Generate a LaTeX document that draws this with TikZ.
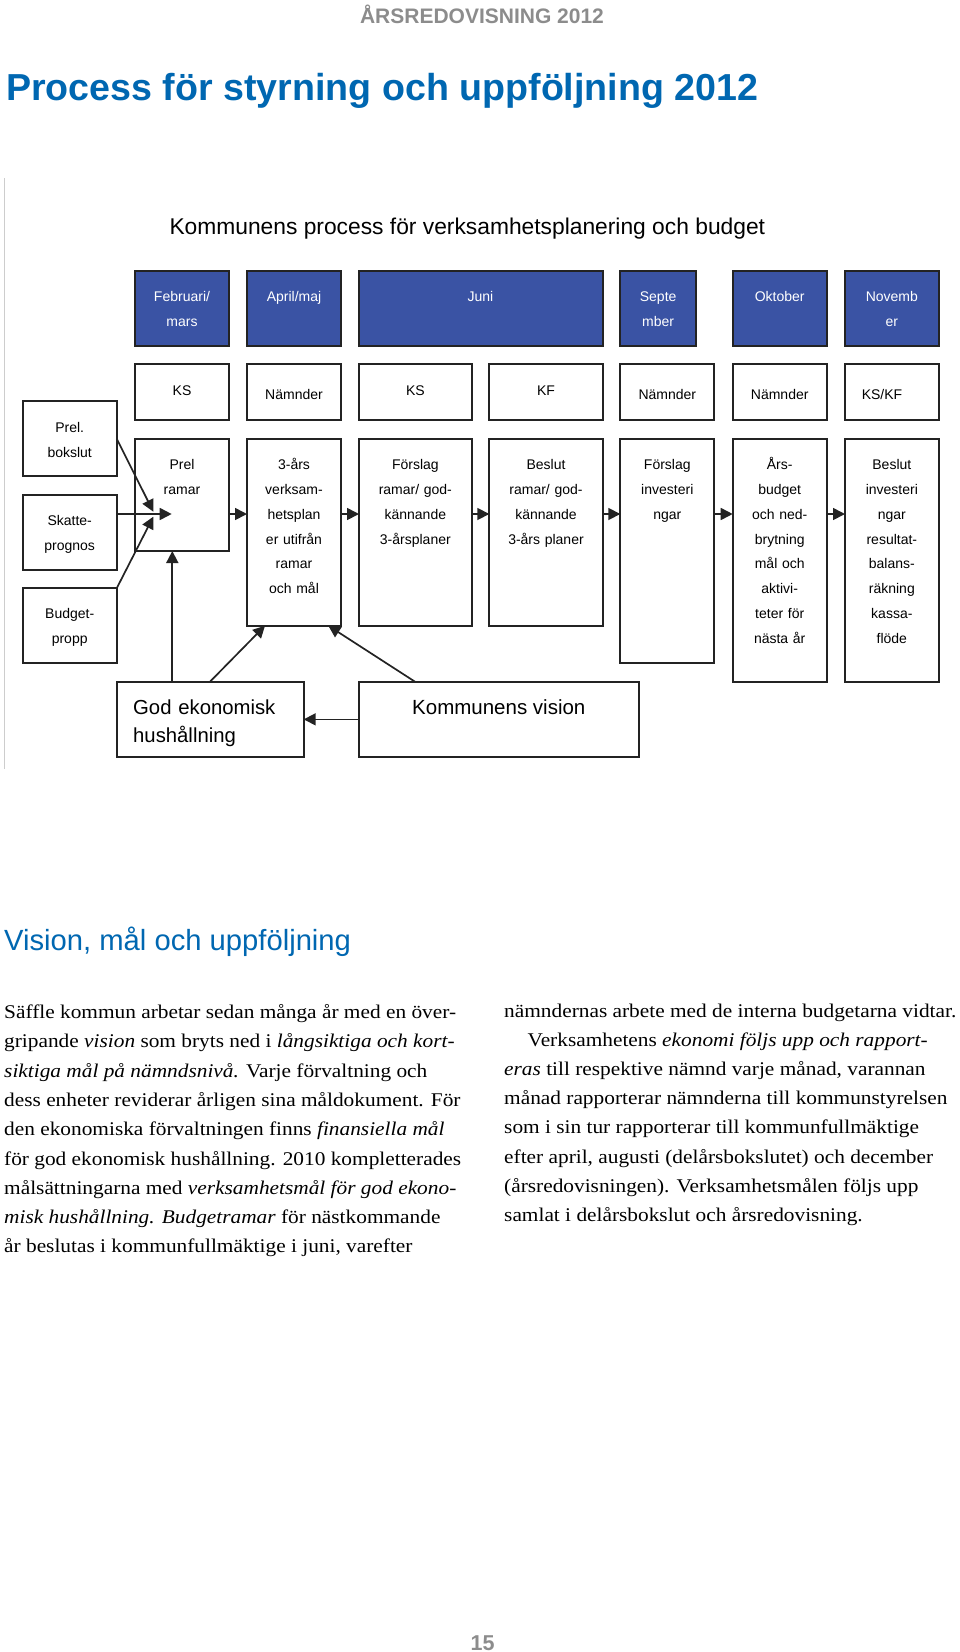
\documentclass[tikz,border=0pt]{standalone}
\usepackage{fontspec}
\setmainfont{Liberation Serif}[FakeStretch=1.1]
\newfontfamily\arial{Liberation Sans}
\usetikzlibrary{arrows.meta,calc}
\definecolor{monthblue}{RGB}{58,83,164}
\definecolor{titleblue}{RGB}{0,103,177}
\definecolor{hdrgray}{RGB}{140,140,140}
\definecolor{boxline}{RGB}{35,35,35}
\definecolor{framegray}{RGB}{205,205,205}
\begin{document}
\begin{tikzpicture}[x=1pt,y=-1pt,
  box/.style={draw=boxline, line width=1.7pt, inner sep=0pt, outer sep=0pt},
  monthbox/.style={box, fill=monthblue},
  btxt/.style={font={\arial\fontsize{14}{24.9}\selectfont}, align=center, inner sep=0pt, anchor=base},
  mtxt/.style={btxt, text=white},
  arr/.style={draw=boxline, line width=1.7pt, -{Triangle[length=12pt,width=12pt]}},
  body/.style={font={\fontsize{19.4}{29.3}\selectfont}, anchor=base west, inner sep=0pt}
]
\useasboundingbox (0,0) rectangle (960,1652);

% header and title
\node[anchor=base, inner sep=0pt, font={\arial\bfseries\fontsize{21}{24}\selectfont}, text=hdrgray] (hdr) at (482,23.3) {ÅRSREDOVISNING 2012};
\node[anchor=base west, inner sep=0pt, font={\arial\bfseries\fontsize{37.6}{40}\selectfont}, text=titleblue] (title) at (6,100.7) {Process för styrning och uppföljning 2012};

% frame line
\draw[framegray, line width=1pt] (4.5,178) -- (4.5,769);

% diagram title
\node[anchor=base west, inner sep=0pt, font={\arial\fontsize{22.8}{26}\selectfont}] (dtitle) at (169.3,234) {Kommunens process för verksamhetsplanering och budget};

% month row
\node[monthbox, minimum width=94pt, minimum height=75pt] (m1) at (182,308.2) {};
\node[monthbox, minimum width=94pt, minimum height=75pt] (m2) at (294,308.2) {};
\node[monthbox, minimum width=243.7pt, minimum height=75pt] (m3) at (480.85,308.2) {};
\node[monthbox, minimum width=75.7pt, minimum height=75pt] (m4) at (658.15,308.2) {};
\node[monthbox, minimum width=94pt, minimum height=75pt] (m5) at (779.7,308.2) {};
\node[monthbox, minimum width=93.7pt, minimum height=75pt] (m6) at (891.85,308.2) {};
\node[mtxt, text width=94pt] (tm1) at (182,301.5) {Februari/\\mars};
\node[mtxt, text width=94pt] (tm2) at (294,301.5) {April/maj};
\node[mtxt, text width=94pt] (tm3) at (480.5,301.5) {Juni};
\node[mtxt, text width=75pt] (tm4) at (658.15,301.5) {Septe\\mber};
\node[mtxt, text width=94pt] (tm5) at (779.7,301.5) {Oktober};
\node[mtxt, text width=94pt] (tm6) at (891.85,301.5) {Novemb\\er};

% who row
\node[box, minimum width=94pt, minimum height=56.3pt] (w1) at (182,392.15) {};
\node[box, minimum width=94pt, minimum height=56.3pt] (w2) at (294,392.15) {};
\node[box, minimum width=112.7pt, minimum height=56.3pt] (w3) at (415.35,392.15) {};
\node[box, minimum width=113.4pt, minimum height=56.3pt] (w4) at (546,392.15) {};
\node[box, minimum width=94pt, minimum height=56.3pt] (w5) at (667.3,392.15) {};
\node[box, minimum width=94pt, minimum height=56.3pt] (w6) at (779.7,392.15) {};
\node[box, minimum width=93.7pt, minimum height=56.3pt] (w7) at (891.85,392.15) {};
\node[btxt, text width=94pt] (tw1) at (182,395) {KS};
\node[btxt, text width=94pt] (tw2) at (294,399) {Nämnder};
\node[btxt, text width=94pt] (tw3) at (415.35,395) {KS};
\node[btxt, text width=94pt] (tw4) at (546,395) {KF};
\node[btxt, text width=94pt] (tw5) at (667.3,399) {Nämnder};
\node[btxt, text width=94pt] (tw6) at (779.7,399) {Nämnder};
\node[btxt, text width=94pt] (tw7) at (882,399) {KS/KF};

% left column
\node[box, minimum width=94pt, minimum height=75.3pt] (bok) at (69.7,438.65) {};
\node[box, minimum width=94pt, minimum height=75pt] (skatte) at (69.7,532.2) {};
\node[box, minimum width=94pt, minimum height=74.7pt] (budget) at (69.7,625.65) {};
\node[btxt, text width=94pt] (tbok) at (69.7,432.3) {Prel.\\bokslut};
\node[btxt, text width=94pt] (tskatte) at (69.7,525.7) {Skatte-\\prognos};
\node[btxt, text width=94pt] (tbudget) at (69.7,618.3) {Budget-\\propp};

% process row
\node[box, minimum width=94pt, minimum height=112.3pt] (prel) at (182,494.85) {};
\node[box, minimum width=94pt, minimum height=187pt] (verk) at (294,532.2) {};
\node[box, minimum width=112.7pt, minimum height=187pt] (forsl) at (415.35,532.2) {};
\node[box, minimum width=113.4pt, minimum height=187pt] (besl) at (546,532.2) {};
\node[box, minimum width=94pt, minimum height=224.3pt] (finv) at (667.3,550.85) {};
\node[box, minimum width=94pt, minimum height=243pt] (ars) at (779.7,560.2) {};
\node[box, minimum width=93.7pt, minimum height=243pt] (binv) at (891.85,560.2) {};
\node[btxt, text width=94pt] (tprel) at (182,469.3) {Prel\\ramar};
\node[btxt, text width=94pt] (tverk) at (294,469.3) {3-års\\verksam-\\hetsplan\\er utifrån\\ramar\\och mål};
\node[btxt, text width=112pt] (tforsl) at (415.35,469.3) {Förslag\\ramar/ god-\\kännande\\3-årsplaner};
\node[btxt, text width=112pt] (tbesl) at (546,469.3) {Beslut\\ramar/ god-\\kännande\\3-års planer};
\node[btxt, text width=94pt] (tfinv) at (667.3,469.3) {Förslag\\investeri\\ngar};
\node[btxt, text width=94pt] (tars) at (779.7,469.3) {Års-\\budget\\och ned-\\brytning\\mål och\\aktivi-\\teter för\\nästa år};
\node[btxt, text width=94pt] (tbinv) at (891.85,469.3) {Beslut\\investeri\\ngar\\resultat-\\balans-\\räkning\\kassa-\\flöde};

% bottom row
\node[box, minimum width=187pt, minimum height=75.3pt] (god) at (210.2,719.35) {};
\node[box, minimum width=280.3pt, minimum height=75.3pt] (vis) at (499.15,719.35) {};
\node[anchor=base west, inner sep=0pt, align=left, text width=170pt, font={\arial\fontsize{20.3}{28.5}\selectfont}] (tgod) at (133,714) {God ekonomisk\\hushållning};
\node[anchor=base west, inner sep=0pt, font={\arial\fontsize{20.5}{28.5}\selectfont}] (tvis) at (412,714) {Kommunens vision};

% connectors
\coordinate (row) at (0,514);
\coordinate (tipA) at (153.3,511.7);
\coordinate (tipB) at (171.7,514);
\coordinate (tipC) at (153.3,516.7);
\draw[arr] (bok.east) -- (tipA);
\draw[arr] (skatte.east |- row) -- (tipB);
\draw[arr] (budget.north east) -- (tipC);
\draw[arr] (prel.east |- row) -- (verk.west |- row);
\draw[arr] (verk.east |- row) -- (forsl.west |- row);
\draw[arr] (forsl.east |- row) -- (besl.west |- row);
\draw[arr] (besl.east |- row) -- (finv.west |- row);
\draw[arr] (finv.east |- row) -- (ars.west |- row);
\draw[arr] (ars.east |- row) -- (binv.west |- row);
\draw[arr] ([xshift=55.6pt]god.north west) -- ([xshift=37.3pt]prel.south west);
\draw[arr] ([xshift=93.3pt]god.north west) -- ([xshift=18pt]verk.south west);
\draw[arr] ([xshift=56pt]vis.north west) -- ([xshift=81.3pt]verk.south west);
\draw[arr] (vis.west) -- (god.east);

% section heading
\node[anchor=base west, inner sep=0pt, font={\arial\fontsize{29.2}{32}\selectfont}, text=titleblue] (sec) at (4,950) {Vision, mål och uppföljning};

% body left
\node[body] (l1) at (4,1018.5) {Säffle kommun arbetar sedan många år med en över-};
\node[body] (l2) at (4,1047.8) {gripande \textit{vision} som bryts ned i \textit{långsiktiga och kort-}};
\node[body] (l3) at (4,1077.1) {\textit{siktiga mål på nämndsnivå.} Varje förvaltning och};
\node[body] (l4) at (4,1106.4) {dess enheter reviderar årligen sina måldokument. För};
\node[body] (l5) at (4,1135.7) {den ekonomiska förvaltningen finns \textit{finansiella mål}};
\node[body] (l6) at (4,1165.0) {för god ekonomisk hushållning. 2010 kompletterades};
\node[body] (l7) at (4,1194.3) {målsättningarna med \textit{verksamhetsmål för god ekono-}};
\node[body] (l8) at (4,1223.6) {\textit{misk hushållning. Budgetramar} för nästkommande};
\node[body] (l9) at (4,1252.9) {år beslutas i kommunfullmäktige i juni, varefter};

% body right
\node[body] (r1) at (504,1017.5) {nämndernas arbete med de interna budgetarna vidtar.};
\node[body] (r2) at (527.5,1046.6) {Verksamhetens \textit{ekonomi följs upp och rapport-}};
\node[body] (r3) at (504,1075.7) {\textit{eras} till respektive nämnd varje månad, varannan};
\node[body] (r4) at (504,1104.8) {månad rapporterar nämnderna till kommunstyrelsen};
\node[body] (r5) at (504,1133.9) {som i sin tur rapporterar till kommunfullmäktige};
\node[body] (r6) at (504,1163.0) {efter april, augusti (delårsbokslutet) och december};
\node[body] (r7) at (504,1192.1) {(årsredovisningen). Verksamhetsmålen följs upp};
\node[body] (r8) at (504,1221.2) {samlat i delårsbokslut och årsredovisning.};

% page number
\node[anchor=base, inner sep=0pt, font={\arial\bfseries\fontsize{21.5}{24}\selectfont}, text=hdrgray] (pnum) at (482.6,1650) {15};
\end{tikzpicture}
\end{document}
